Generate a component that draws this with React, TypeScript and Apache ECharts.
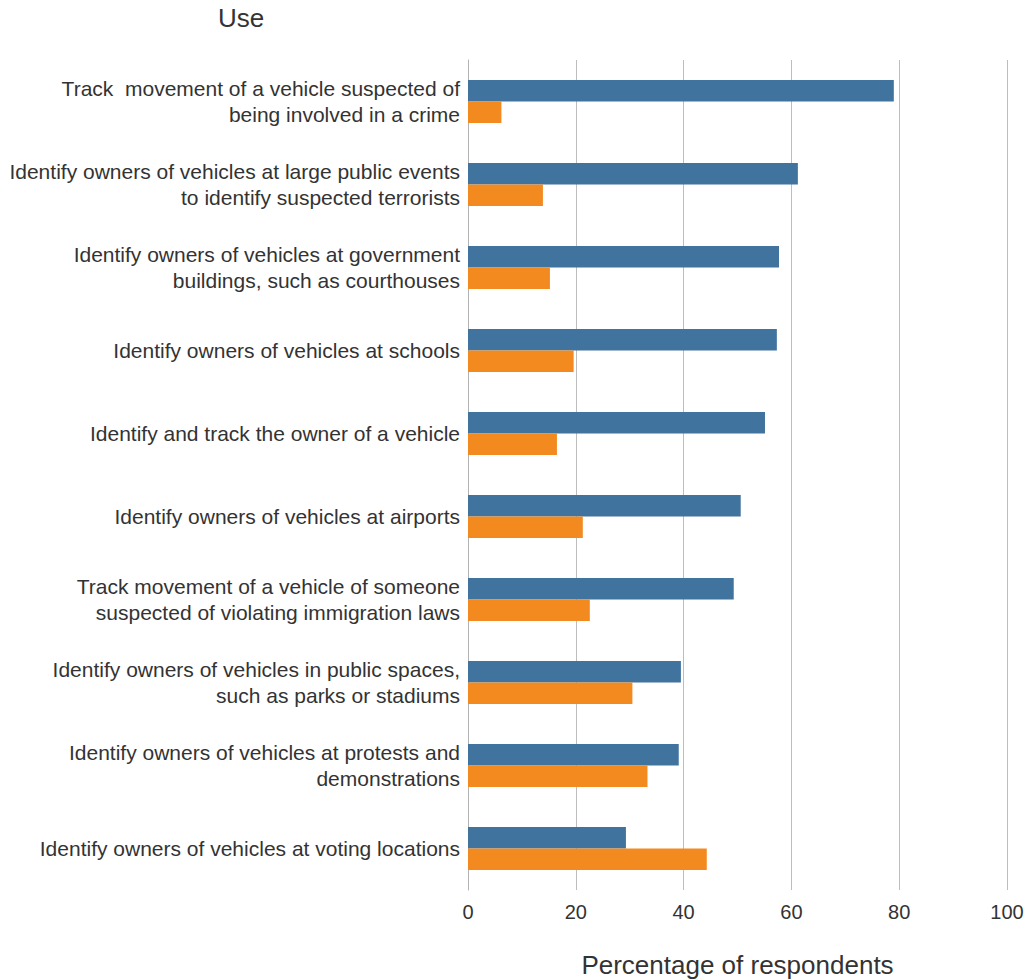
import React, { useEffect, useRef } from "react";
import * as echarts from "echarts";

// Uses of license-plate reader data, top to bottom
const uses: string[] = [
  "Track  movement of a vehicle suspected of\nbeing involved in a crime",
  "Identify owners of vehicles at large public events\nto identify suspected terrorists",
  "Identify owners of vehicles at government\nbuildings, such as courthouses",
  "Identify owners of vehicles at schools",
  "Identify and track the owner of a vehicle",
  "Identify owners of vehicles at airports",
  "Track movement of a vehicle of someone\nsuspected of violating immigration laws",
  "Identify owners of vehicles in public spaces,\nsuch as parks or stadiums",
  "Identify owners of vehicles at protests and\ndemonstrations",
  "Identify owners of vehicles at voting locations",
];

// Percentage of respondents per use
const supportValues: number[] = [79, 61.2, 57.7, 57.3, 55.1, 50.6, 49.3, 39.5, 39.1, 29.3];
const opposeValues: number[] = [6.2, 13.9, 15.2, 19.6, 16.5, 21.3, 22.6, 30.5, 33.3, 44.3];

const xTicks = { min: 0, max: 100, interval: 20 };

const FONT = "'Liberation Sans', Arial, Helvetica, sans-serif";
const TEXT = "#333333";

export default function App() {
  const ref = useRef<HTMLDivElement>(null);

  useEffect(() => {
    if (!ref.current) return;
    const chart = echarts.init(ref.current, undefined, { renderer: "svg" });
    chart.setOption({
      animation: false,
      backgroundColor: "#ffffff",
      textStyle: { fontFamily: FONT },
      title: {
        text: "Use",
        left: 213,
        top: 0,
        textStyle: { fontFamily: FONT, fontSize: 26, fontWeight: "normal", color: TEXT },
      },
      grid: {
        left: 468,
        right: 26,
        top: 60,
        height: 830,
        containLabel: false,
        outerBoundsMode: "none",
      },
      xAxis: {
        type: "value",
        min: xTicks.min,
        max: xTicks.max,
        interval: xTicks.interval,
        name: "Percentage of respondents",
        nameLocation: "middle",
        nameGap: 62,
        nameTextStyle: { fontFamily: FONT, fontSize: 26, color: TEXT },
        axisLine: { show: false },
        axisTick: { show: false },
        axisLabel: { fontFamily: FONT, fontSize: 20, color: TEXT, margin: 12 },
        splitLine: { show: true, lineStyle: { color: "#bdbdbd", width: 1 } },
      },
      yAxis: {
        type: "category",
        inverse: true,
        data: uses,
        axisLine: { show: true, lineStyle: { color: "#b3b3b3", width: 1 } },
        axisTick: { show: false },
        axisLabel: {
          fontFamily: FONT,
          fontSize: 21,
          lineHeight: 26,
          color: TEXT,
          margin: 8,
          align: "right",
          verticalAlign: "middle",
          padding: [0, 0, 6, 0],
        },
      },
      series: [
        {
          name: "Support",
          type: "bar",
          data: supportValues,
          itemStyle: { color: "#41739f" },
          barCategoryGap: "48%",
          barGap: "0%",
        },
        {
          name: "Oppose",
          type: "bar",
          data: opposeValues,
          itemStyle: { color: "#f28a20" },
          barCategoryGap: "48%",
          barGap: "0%",
        },
      ],
    });
    return () => chart.dispose();
  }, []);

  return (
    <div
      ref={ref}
      style={{ position: "fixed", left: 0, top: 0, width: 1033, height: 980 }}
    />
  );
}
